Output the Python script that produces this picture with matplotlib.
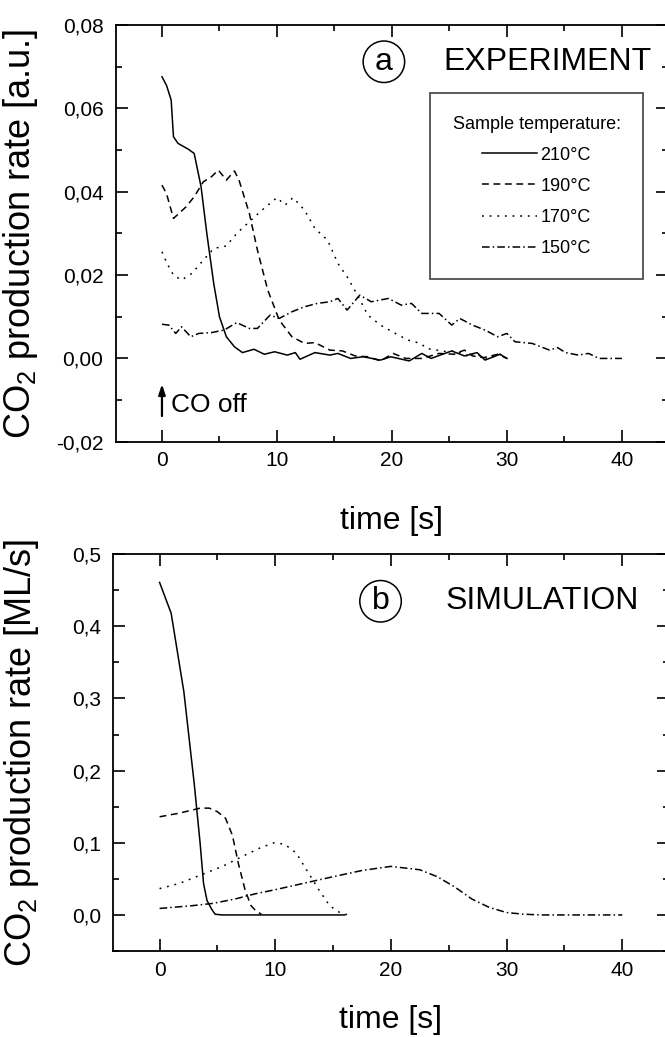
import matplotlib
matplotlib.use("Agg")
import matplotlib.pyplot as plt
from matplotlib.ticker import MultipleLocator, FixedLocator, FixedFormatter

plt.rcParams['font.family'] = ['Liberation Sans', 'DejaVu Sans']
plt.rcParams['mathtext.default'] = 'regular'

# ---- panel (a): experiment, time [s] vs CO2 rate [a.u.] ----
exp_210_t = [0, 0.4, 0.8, 1.0, 1.4, 2.3, 2.8, 3.4, 3.9, 4.5, 5.0, 5.6, 6.3, 7.0, 8.0, 8.9,
             9.8, 10.9, 11.6, 12.0, 13.3, 14.6, 15.3, 16.4, 17.5, 19.0, 19.9, 21.5, 22.6,
             23.4, 25.2, 26.3, 27.4, 28.1, 29.4, 30.0]
exp_210_y = [0.0676, 0.0655, 0.062, 0.0532, 0.0516, 0.0502, 0.0492, 0.0412, 0.030, 0.018,
             0.010, 0.0052, 0.0028, 0.0014, 0.0022, 0.001, 0.0016, 0.0008, 0.0014, -0.0002,
             0.0014, 0.0008, 0.0012, 0.0, 0.0004, -0.0004, 0.0004, -0.0006, 0.0012, 0.0,
             0.0018, 0.0006, 0.0014, -0.0004, 0.001, 0.0]

exp_190_t = [0, 0.4, 1.0, 2.1, 2.8, 3.6, 4.3, 4.9, 5.6, 6.3, 6.7, 7.6, 8.3, 9.2, 10.2, 11.3,
             12.4, 13.3, 14.6, 15.7, 16.8, 17.9, 19.0, 20.1, 21.2, 22.6, 24.1, 25.4, 26.3,
             27.0, 28.0, 29.2, 30.0]
exp_190_y = [0.0416, 0.0395, 0.0336, 0.0364, 0.0388, 0.0424, 0.0436, 0.0452, 0.0428, 0.045,
             0.0428, 0.0348, 0.026, 0.0164, 0.0092, 0.0052, 0.0036, 0.0038, 0.002, 0.0018,
             0.0006, 0.0004, -0.0006, 0.0012, 0.0, 0.0, 0.0012, 0.001, 0.002, 0.0006,
             0.0002, 0.001, 0.0]

exp_170_t = [0, 0.44, 1.0, 1.7, 2.6, 3.6, 4.5, 5.6, 6.5, 7.6, 8.7, 10.0, 10.7, 11.4, 12.4,
             13.3, 14.4, 15.3, 16.1, 17.0, 17.9, 19.0, 20.3, 21.4, 22.5, 23.0, 23.9, 24.8,
             25.6, 26.7, 27.2, 28.1, 29.4, 30.0]
exp_170_y = [0.0256, 0.0228, 0.020, 0.0188, 0.0204, 0.0236, 0.0264, 0.027, 0.030, 0.0328,
             0.0356, 0.0386, 0.0368, 0.0386, 0.0356, 0.0312, 0.0284, 0.0228, 0.0196, 0.0152,
             0.0104, 0.008, 0.006, 0.0044, 0.0036, 0.0024, 0.002, 0.0016, 0.0018, 0.0004,
             0.0014, -0.0002, 0.001, 0.0]

exp_150_t = [0, 0.6, 1.2, 1.7, 2.5, 3.2, 4.3, 5.4, 6.5, 7.6, 8.3, 9.4, 10.2, 11.3, 12.4,
             13.5, 14.6, 15.3, 16.1, 17.2, 18.2, 19.7, 20.8, 21.7, 22.6, 24.1, 25.2, 25.9,
             27.0, 28.1, 29.2, 30.0, 30.7, 32.2, 33.7, 34.4, 35.1, 36.2, 37.1, 38.0, 40.0]
exp_150_y = [0.0082, 0.008, 0.006, 0.0076, 0.0052, 0.006, 0.0062, 0.0068, 0.0086, 0.0072,
             0.0072, 0.0104, 0.0096, 0.0112, 0.0124, 0.0132, 0.0136, 0.0144, 0.0116, 0.0152,
             0.0136, 0.0144, 0.0128, 0.0132, 0.0108, 0.0108, 0.008, 0.0096, 0.008, 0.0068,
             0.0052, 0.006, 0.004, 0.0036, 0.002, 0.0026, 0.0014, 0.0008, 0.0012, 0.0, 0.0]

# ---- panel (b): simulation, time [s] vs CO2 rate [ML/s] ----
sim_210_t = [0, 1.0, 2.1, 3.0, 3.5, 3.8, 4.1, 4.5, 4.8, 5.4, 16.0]
sim_210_y = [0.4607, 0.418, 0.309, 0.181, 0.100, 0.0436, 0.020, 0.008, 0.001, 0.0, 0.0]

sim_190_t = [0, 1.7, 3.5, 4.3, 5.0, 5.7, 6.3, 6.8, 7.4, 7.9, 8.3, 8.8]
sim_190_y = [0.136, 0.141, 0.148, 0.148, 0.143, 0.134, 0.110, 0.072, 0.034, 0.013, 0.006, 0.001]

sim_170_t = [0, 1.7, 3.5, 5.4, 7.2, 8.7, 9.9, 10.8, 11.8, 12.7, 13.8, 14.7, 15.6, 16.3]
sim_170_y = [0.0365, 0.0436, 0.055, 0.067, 0.0815, 0.093, 0.100, 0.098, 0.086, 0.0626,
             0.034, 0.0128, 0.003, 0.0]

sim_150_t = [0, 2.8, 4.6, 6.5, 8.3, 10.0, 12.5, 15.0, 17.5, 20.0, 22.5, 24.0, 25.5, 27.0,
             28.5, 30.0, 31.5, 33.0, 40.0]
sim_150_y = [0.009, 0.0128, 0.016, 0.022, 0.0294, 0.035, 0.044, 0.053, 0.0616, 0.0673,
             0.0626, 0.053, 0.0389, 0.022, 0.0104, 0.0033, 0.001, 0.0, 0.0]

temps = ['210°C', '190°C', '170°C', '150°C']
styles = ['-', (0, (4.5, 3)), (0, (1.2, 3.8)), (0, (5, 2, 1, 2))]

ticks_a = [-0.02, 0.0, 0.02, 0.04, 0.06, 0.08]
labels_a = ['-0,02', '0,00', '0,02', '0,04', '0,06', '0,08']
ticks_b = [0.0, 0.1, 0.2, 0.3, 0.4, 0.5]
labels_b = ['0,0', '0,1', '0,2', '0,3', '0,4', '0,5']

fig = plt.figure(figsize=(6.65, 10.37), dpi=100)
ax1 = fig.add_axes([0.1744, 0.574, 0.830, 0.4018])
ax2 = fig.add_axes([0.1704, 0.0829, 0.835, 0.3828])


def style_axes(ax, yticks, ylabels, yminor):
    ax.set_xlim(-4, 44)
    ax.xaxis.set_major_locator(MultipleLocator(10))
    ax.xaxis.set_minor_locator(MultipleLocator(5))
    ax.yaxis.set_major_locator(FixedLocator(yticks))
    ax.yaxis.set_major_formatter(FixedFormatter(ylabels))
    ax.yaxis.set_minor_locator(MultipleLocator(yminor))
    ax.tick_params(which='both', direction='in', top=True, right=True, width=1.2,
                   labelsize=15)
    ax.tick_params(which='major', length=8.5)
    ax.tick_params(which='minor', length=4.5)
    ax.tick_params(axis='y', pad=9)
    ax.tick_params(axis='x', pad=7)
    for s in ax.spines.values():
        s.set_linewidth(1.3)


style_axes(ax1, ticks_a, labels_a, 0.01)
ax1.set_ylim(-0.02, 0.08)
exp_sets = [(exp_210_t, exp_210_y), (exp_190_t, exp_190_y),
            (exp_170_t, exp_170_y), (exp_150_t, exp_150_y)]
for (t, y), ls, lab in zip(exp_sets, styles, temps):
    ax1.plot(t, y, color='black', lw=1.1, linestyle=ls, label=lab)

leg = ax1.legend(title='Sample temperature:', loc='upper left',
                 bbox_to_anchor=(0.569, 0.837), borderaxespad=0, fontsize=13,
                 title_fontsize=13, frameon=True, fancybox=False, edgecolor='#222222',
                 handlelength=3.0, handletextpad=0.2, labelspacing=0.78, borderpad=1.25)
leg.get_frame().set_linewidth(1.3)

ax1.text(24.5, 0.0712, 'EXPERIMENT', fontsize=23, va='center', ha='left')
ax1.text(19.3, 0.0712, 'a', fontsize=23, va='center', ha='center',
         bbox=dict(boxstyle='circle,pad=0.18', fc='none', ec='black', lw=1.1))
ax1.annotate('', xy=(0, -0.0055), xytext=(0, -0.0145),
             arrowprops=dict(arrowstyle='-|>,head_length=0.6,head_width=0.2',
                             color='black', lw=1.6))
ax1.text(0.8, -0.0112, 'CO off', fontsize=19, va='center', ha='left')
ax1.set_ylabel('CO$_2$ production rate [a.u.]', fontsize=26)
ax1.yaxis.set_label_coords(-0.137, 0.5)
ax1.set_xlabel('time [s]', fontsize=23)
ax1.xaxis.set_label_coords(0.5, -0.155)

style_axes(ax2, ticks_b, labels_b, 0.05)
ax2.set_ylim(-0.05, 0.5)
sim_sets = [(sim_210_t, sim_210_y), (sim_190_t, sim_190_y),
            (sim_170_t, sim_170_y), (sim_150_t, sim_150_y)]
for (t, y), ls in zip(sim_sets, styles):
    ax2.plot(t, y, color='black', lw=1.1, linestyle=ls)

ax2.text(24.7, 0.4346, 'SIMULATION', fontsize=23, va='center', ha='left')
ax2.text(19.1, 0.4346, 'b', fontsize=23, va='center', ha='center',
         bbox=dict(boxstyle='circle,pad=0.18', fc='none', ec='black', lw=1.1))
ax2.set_ylabel('CO$_2$ production rate [ML/s]', fontsize=26)
ax2.yaxis.set_label_coords(-0.13, 0.5)
ax2.set_xlabel('time [s]', fontsize=23)
ax2.xaxis.set_label_coords(0.5, -0.135)

fig.savefig('out.png', dpi=100)
